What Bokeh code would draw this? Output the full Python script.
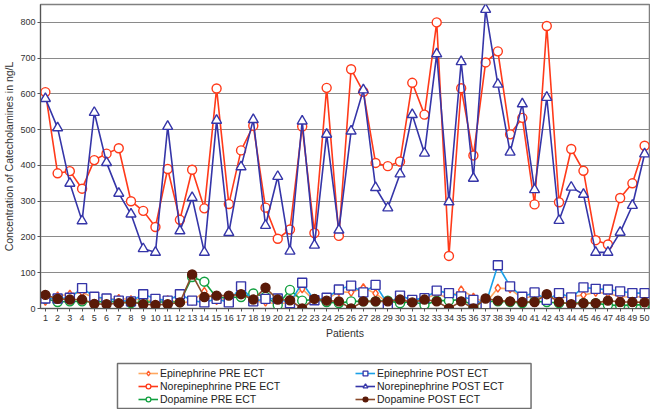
from bokeh.plotting import figure
from bokeh.models import Legend, LegendItem, FixedTicker, ColumnDataSource
from bokeh.layouts import column
from bokeh.embed import file_html
from bokeh.resources import INLINE

patients = list(range(1, 51))

epi_pre = [20, 35, 40, 45, 30, 25, 28, 25, 25, 20, 25, 15, 20, 48, 22, 25, 45, 20, 18, 12,
           18, 55, 22, 25, 47, 45, 58, 42, 15, 25, 20, 28, 40, 30, 52, 32, 15, 57, 55, 28,
           35, 25, 30, 32, 38, 45, 42, 33, 32, 33]
norepi_pre = [605, 378, 384, 335, 415, 433, 448, 300, 273, 228, 390, 248, 388, 280, 615, 292, 442, 511, 282, 195,
              221, 509, 211, 617, 203, 669, 606, 407, 398, 411, 631, 542, 800, 147, 616, 428, 688, 719, 487, 533,
              291, 790, 297, 446, 385, 191, 179, 309, 350, 455]
dopa_pre = [28, 18, 20, 20, 18, 20, 18, 15, 18, 18, 18, 18, 88, 75, 30, 30, 32, 42, 33, 10,
            52, 22, 25, 18, 15, 20, 20, 20, 22, 15, 20, 10, 22, 22, 25, 8, 20, 20, 18, 15,
            20, 18, 15, 15, 15, 15, 10, 8, 10, 10]
epi_post = [28, 28, 30, 57, 33, 28, 22, 20, 40, 27, 22, 40, 22, 17, 27, 17, 62, 20, 27, 28,
            15, 72, 23, 30, 53, 64, 45, 66, 12, 36, 24, 29, 50, 43, 34, 24, 12, 121, 62, 33,
            45, 24, 43, 31, 59, 55, 53, 48, 43, 43]
norepi_post = [587, 505, 350, 245, 548, 408, 322, 264, 167, 157, 509, 217, 310, 157, 526, 212, 396, 528, 232, 369,
               160, 524, 177, 487, 219, 496, 611, 338, 281, 376, 542, 434, 712, 298, 690, 364, 836, 627, 437, 572,
               332, 590, 246, 339, 319, 157, 157, 213, 288, 432]
dopa_post = [38, 27, 25, 25, 13, 12, 15, 18, 12, 10, 12, 17, 95, 32, 36, 36, 40, 25, 58, 25,
             23, 0, 27, 22, 20, 0, 20, 20, 20, 25, 17, 25, 20, 0, 20, 0, 28, 22, 20, 18,
             18, 40, 18, 12, 15, 15, 22, 18, 18, 17]

y_ticks = [0, 100, 200, 300, 400, 500, 600, 700, 800]

FONT = "Liberation Sans"

p = figure(width=650, height=341, x_range=(0.6, 50.4), y_range=(0, 850),
           output_backend="svg", toolbar_location=None,
           min_border_top=4, min_border_right=1, min_border_left=0, min_border_bottom=0)

p.outline_line_color = "#808080"
p.outline_line_width = 1.5
p.xgrid.grid_line_color = None
p.ygrid.grid_line_color = "#8a8a8a"
p.ygrid.grid_line_width = 1.2

p.yaxis.ticker = FixedTicker(ticks=y_ticks)
p.xaxis.ticker = FixedTicker(ticks=patients)
p.yaxis.minor_tick_line_color = None
p.xaxis.minor_tick_line_color = None
for ax in (p.xaxis, p.yaxis):
    ax.major_label_text_font = FONT
    ax.major_label_text_font_size = "9px"
    ax.major_label_text_color = "#333333"
    ax.axis_label_text_font = FONT
    ax.axis_label_text_font_size = "10.5px"
    ax.axis_label_text_font_style = "normal"
    ax.axis_label_text_color = "#333333"
    ax.axis_line_color = "#555555"
    ax.major_tick_line_color = "#555555"
    ax.major_tick_in = 0
    ax.major_tick_out = 3
    ax.major_label_standoff = 3
    ax.axis_label_standoff = 3
p.yaxis.axis_label_standoff = 2
p.yaxis.major_label_standoff = 2
p.xaxis.axis_label = "Patients"
p.yaxis.axis_label = "Concentration of Catecholamines in ng/L"

src = ColumnDataSource(dict(x=patients, epi_pre=epi_pre, norepi_pre=norepi_pre, dopa_pre=dopa_pre,
                            epi_post=epi_post, norepi_post=norepi_post, dopa_post=dopa_post))
dummy = ColumnDataSource(dict(x=[-100.0], y=[-100.0]))

specs = [
    ("epi_pre", "Epinephrine PRE ECT", "#ffa860", "diamond", "#ff5a28", "white", 8),
    ("norepi_pre", "Norepinephrine PRE ECT", "#ff3a1a", "circle", "#ff3a1a", "white", 9),
    ("dopa_pre", "Dopamine PRE ECT", "#12a040", "circle", "#12a040", "white", 9),
    ("epi_post", "Epinephrine POST ECT", "#1aa0e8", "square", "#3535a8", "white", 9),
    ("norepi_post", "Norepinephrine POST ECT", "#3535a8", "triangle", "#3535a8", "white", 10),
    ("dopa_post", "Dopamine POST ECT", "#8a4a2a", "circle", "#5a1a08", "#5a1a08", 9),
]

# legend-only strip (no axes); its frame lines up with the main frame
LW, LH = 617, 68
lf = figure(width=650, height=LH, x_range=(0, LW), y_range=(0, LH),
            output_backend="svg", toolbar_location=None,
            x_axis_location=None, y_axis_location=None,
            min_border_left=0, min_border_right=0, min_border_top=0, min_border_bottom=0,
            outline_line_color=None)
lf.grid.visible = False

lf.quad(left=[78], right=[497], bottom=[1], top=[46], fill_color="white",
        line_color="#707070", line_width=1.5)

items = {}
for col, label, lc, marker, mc, fc, size in specs:
    p.line("x", col, source=src, line_color=lc, line_width=1.6)
    p.scatter("x", col, source=src, marker=marker, size=size, line_color=mc,
              fill_color=fc, line_width=1.4)
    l1 = lf.line("x", "y", source=dummy, line_color=lc, line_width=1.6)
    l2 = lf.scatter("x", "y", source=dummy, marker=marker, size=size - 2, line_color=mc,
                    fill_color=fc, line_width=1.3)
    items[col] = LegendItem(label=label, renderers=[l1, l2])

common = dict(label_text_font=FONT, label_text_font_size="10.5px", label_text_color="#222222",
              label_height=12, glyph_height=12, glyph_width=20, label_standoff=2,
              spacing=1, padding=0, margin=0, border_line_color=None,
              background_fill_alpha=0.0)
leg1 = Legend(items=[items[k] for k in ["epi_pre", "norepi_pre", "dopa_pre"]],
              location=(98, 4), **common)
leg2 = Legend(items=[items[k] for k in ["epi_post", "norepi_post", "dopa_post"]],
              location=(315, 4), **common)
lf.add_layout(leg1, "center")
lf.add_layout(leg2, "center")

layout = column(p, lf, spacing=0)
open("out.html", "w").write(file_html(layout, INLINE))
